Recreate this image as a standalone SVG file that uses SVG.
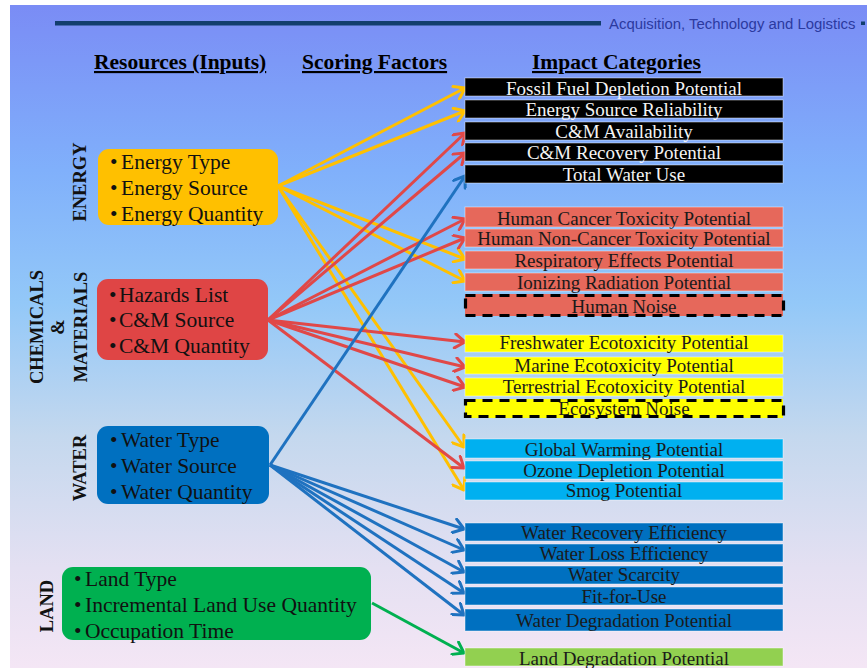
<svg xmlns="http://www.w3.org/2000/svg" width="867" height="668" viewBox="0 0 867 668">
<defs>
<linearGradient id="bg" x1="0" y1="0" x2="0" y2="1">
<stop offset="0" stop-color="#7a8cf5"/>
<stop offset="0.25" stop-color="#80b0fb"/>
<stop offset="0.45" stop-color="#93c8f8"/>
<stop offset="0.65" stop-color="#c4d8ee"/>
<stop offset="0.85" stop-color="#e4e0f2"/>
<stop offset="1" stop-color="#f4e6f5"/>
</linearGradient>
<marker id="aY" viewBox="-12 -8 14 16" refX="0" refY="0" markerWidth="14" markerHeight="16" markerUnits="userSpaceOnUse" orient="auto"><path d="M-10,-7 L0,0 L-10,7" fill="none" stroke="#ffc000" stroke-width="3" stroke-linecap="round" stroke-linejoin="round"/></marker>
<marker id="aR" viewBox="-12 -8 14 16" refX="0" refY="0" markerWidth="14" markerHeight="16" markerUnits="userSpaceOnUse" orient="auto"><path d="M-10,-7 L0,0 L-10,7" fill="none" stroke="#e04848" stroke-width="3" stroke-linecap="round" stroke-linejoin="round"/></marker>
<marker id="aB" viewBox="-12 -8 14 16" refX="0" refY="0" markerWidth="14" markerHeight="16" markerUnits="userSpaceOnUse" orient="auto"><path d="M-10,-7 L0,0 L-10,7" fill="none" stroke="#1f72c0" stroke-width="3" stroke-linecap="round" stroke-linejoin="round"/></marker>
<marker id="aG" viewBox="-12 -8 14 16" refX="0" refY="0" markerWidth="14" markerHeight="16" markerUnits="userSpaceOnUse" orient="auto"><path d="M-10,-7 L0,0 L-10,7" fill="none" stroke="#00b050" stroke-width="3" stroke-linecap="round" stroke-linejoin="round"/></marker>
</defs>
<style>
.hdr{font-family:"Liberation Serif","Times New Roman",serif;font-weight:bold;font-size:21.5px;fill:#000;text-decoration:underline}
.side{font-family:"Liberation Serif","Times New Roman",serif;font-weight:bold;font-size:18.5px;fill:#111;text-anchor:middle}
.inp{font-family:"Liberation Serif","Times New Roman",serif;font-size:21.5px;fill:#111}
.cat{font-family:"Liberation Serif","Times New Roman",serif;font-size:19px;text-anchor:middle;fill:#1a1a1a}
.cat.w{fill:#f4f4f4}
.box{stroke:#ffffff;stroke-opacity:0.45;stroke-width:1}
.dash{fill:none;stroke:#000;stroke-width:3.2;stroke-dasharray:10 7}
.cy{fill:none;stroke:#ffc000;stroke-width:3;marker-end:url(#aY)}
.cr{fill:none;stroke:#e04848;stroke-width:3;marker-end:url(#aR)}
.cb{fill:none;stroke:#1f72c0;stroke-width:3;marker-end:url(#aB)}
.cg{fill:none;stroke:#00b050;stroke-width:3;marker-end:url(#aG)}
</style>
<rect x="0" y="0" width="867" height="668" fill="#ffffff"/>
<rect x="10" y="5" width="857" height="663" fill="url(#bg)"/>
<rect x="55" y="21" width="546" height="4.5" fill="#123e6e"/>
<text x="609" y="29" font-family="Liberation Sans, Arial, sans-serif" font-size="14.9" fill="#2b3aa0">Acquisition, Technology and Logistics</text>
<rect x="861" y="21.5" width="4" height="3.5" fill="#123e6e"/>
<text class="hdr" x="94" y="69">Resources (Inputs)</text>
<text class="hdr" x="302" y="69">Scoring Factors</text>
<text class="hdr" x="532" y="69">Impact Categories</text>
<text class="side" transform="translate(86,182) rotate(-90)">ENERGY</text>
<text class="side" transform="translate(43,327) rotate(-90)">CHEMICALS</text>
<text class="side" transform="translate(64,327) rotate(-90)">&amp;</text>
<text class="side" transform="translate(87,327) rotate(-90)">MATERIALS</text>
<text class="side" transform="translate(86,468) rotate(-90)">WATER</text>
<text class="side" transform="translate(53,606) rotate(-90)">LAND</text>
<g id="connectors">
<line class="cy" x1="278" y1="186" x2="465" y2="88"/>
<line class="cy" x1="278" y1="186" x2="465" y2="111"/>
<line class="cy" x1="278" y1="186" x2="465" y2="259"/>
<line class="cy" x1="278" y1="186" x2="465" y2="281"/>
<line class="cy" x1="278" y1="186" x2="464" y2="447"/>
<line class="cy" x1="278" y1="186" x2="464" y2="490"/>
<line class="cr" x1="268" y1="320" x2="465" y2="133"/>
<line class="cr" x1="268" y1="320" x2="465" y2="153"/>
<line class="cr" x1="268" y1="320" x2="465" y2="219"/>
<line class="cr" x1="268" y1="320" x2="465" y2="238"/>
<line class="cr" x1="268" y1="320" x2="465" y2="342"/>
<line class="cr" x1="268" y1="320" x2="465" y2="367"/>
<line class="cr" x1="268" y1="320" x2="465" y2="387"/>
<line class="cr" x1="268" y1="320" x2="464" y2="468"/>
<line class="cb" x1="270" y1="465" x2="465" y2="176"/>
<line class="cb" x1="270" y1="465" x2="464" y2="529"/>
<line class="cb" x1="270" y1="465" x2="464" y2="550"/>
<line class="cb" x1="270" y1="465" x2="464" y2="572"/>
<line class="cb" x1="270" y1="465" x2="464" y2="593"/>
<line class="cb" x1="270" y1="465" x2="464" y2="615"/>
<line class="cg" x1="372" y1="603" x2="464" y2="653"/>
</g>
<g id="energy">
<rect x="98" y="149" width="180" height="76" rx="11" fill="#ffc000"/>
<text class="inp" x="110" y="169">•</text><text class="inp" x="121" y="169">Energy Type</text>
<text class="inp" x="110" y="195">•</text><text class="inp" x="121" y="195">Energy Source</text>
<text class="inp" x="110" y="221">•</text><text class="inp" x="121" y="221">Energy Quantity</text>
</g>
<g id="chemicals">
<rect x="97" y="279" width="171" height="81" rx="11" fill="#df4545"/>
<text class="inp" x="109" y="302">•</text><text class="inp" x="119" y="302">Hazards List</text>
<text class="inp" x="109" y="327">•</text><text class="inp" x="119" y="327">C&amp;M Source</text>
<text class="inp" x="109" y="353">•</text><text class="inp" x="119" y="353">C&amp;M Quantity</text>
</g>
<g id="water">
<rect x="97" y="426" width="172" height="78" rx="11" fill="#0070c0"/>
<text class="inp" x="110" y="447">•</text><text class="inp" x="121" y="447">Water Type</text>
<text class="inp" x="110" y="473">•</text><text class="inp" x="121" y="473">Water Source</text>
<text class="inp" x="110" y="499">•</text><text class="inp" x="121" y="499">Water Quantity</text>
</g>
<g id="land">
<rect x="62" y="567" width="309" height="73" rx="11" fill="#00b050"/>
<text class="inp" x="74" y="586">•</text><text class="inp" x="85" y="586">Land Type</text>
<text class="inp" x="74" y="612">•</text><text class="inp" x="85" y="612">Incremental Land Use Quantity</text>
<text class="inp" x="74" y="638">•</text><text class="inp" x="85" y="638">Occupation Time</text>
</g>
<g id="fossil"><rect class="box" x="465" y="78" width="318" height="18" fill="#000"/><text class="cat w" x="624" y="94.5">Fossil Fuel Depletion Potential</text></g>
<g id="esr"><rect class="box" x="465" y="100" width="318" height="18" fill="#000"/><text class="cat w" x="624" y="116">Energy Source Reliability</text></g>
<g id="cma"><rect class="box" x="465" y="122" width="318" height="18" fill="#000"/><text class="cat w" x="624" y="138">C&amp;M Availability</text></g>
<g id="cmr"><rect class="box" x="465" y="143" width="318" height="18" fill="#000"/><text class="cat w" x="624" y="159">C&amp;M Recovery Potential</text></g>
<g id="twu"><rect class="box" x="465" y="165" width="318" height="18" fill="#000"/><text class="cat w" x="624" y="181">Total Water Use</text></g>
<g id="hct"><rect class="box" x="465" y="207" width="318" height="20" fill="#e6685b"/><text class="cat" x="624" y="225">Human Cancer Toxicity Potential</text></g>
<g id="hnct"><rect class="box" x="465" y="229" width="318" height="18" fill="#e6685b"/><text class="cat" x="624" y="245">Human Non-Cancer Toxicity Potential</text></g>
<g id="rep"><rect class="box" x="465" y="251" width="318" height="18" fill="#e6685b"/><text class="cat" x="624" y="267">Respiratory Effects Potential</text></g>
<g id="irp"><rect class="box" x="465" y="273" width="318" height="18" fill="#e6685b"/><text class="cat" x="624" y="289">Ionizing Radiation Potential</text></g>
<g id="hn"><rect x="465" y="294" width="318" height="22" fill="#e6685b"/><text class="cat" x="624" y="312.5">Human Noise</text><rect class="dash" x="465.5" y="295.5" width="318" height="20"/></g>
<g id="fet"><rect class="box" x="465" y="335" width="318" height="17" fill="#ffff00"/><text class="cat" x="624" y="349">Freshwater Ecotoxicity Potential</text></g>
<g id="met"><rect class="box" x="465" y="357" width="318" height="17" fill="#ffff00"/><text class="cat" x="624" y="372">Marine Ecotoxicity Potential</text></g>
<g id="tet"><rect class="box" x="465" y="378" width="318" height="18" fill="#ffff00"/><text class="cat" x="624" y="393">Terrestrial Ecotoxicity Potential</text></g>
<g id="en"><rect x="465" y="399" width="318" height="19" fill="#ffff00"/><text class="cat" x="624" y="415">Ecosystem Noise</text><rect class="dash" x="465.5" y="400.5" width="318" height="16"/></g>
<g id="gwp"><rect class="box" x="465" y="439" width="318" height="19" fill="#00b0f0"/><text class="cat" x="624" y="456">Global Warming Potential</text></g>
<g id="odp"><rect class="box" x="465" y="461" width="318" height="18" fill="#00b0f0"/><text class="cat" x="624" y="477">Ozone Depletion Potential</text></g>
<g id="smog"><rect class="box" x="465" y="482" width="318" height="18" fill="#00b0f0"/><text class="cat" x="624" y="497">Smog Potential</text></g>
<g id="wre"><rect class="box" x="465" y="523" width="318" height="18" fill="#0070c0"/><text class="cat" x="624" y="539">Water Recovery Efficiency</text></g>
<g id="wle"><rect class="box" x="465" y="544" width="318" height="18" fill="#0070c0"/><text class="cat" x="624" y="560">Water Loss Efficiency</text></g>
<g id="ws"><rect class="box" x="465" y="566" width="318" height="18" fill="#0070c0"/><text class="cat" x="624" y="581">Water Scarcity</text></g>
<g id="ffu"><rect class="box" x="465" y="587" width="318" height="18" fill="#0070c0"/><text class="cat" x="624" y="603">Fit-for-Use</text></g>
<g id="wdp"><rect class="box" x="465" y="609" width="318" height="22" fill="#0070c0"/><text class="cat" x="624" y="627">Water Degradation Potential</text></g>
<g id="ldp"><rect class="box" x="465" y="648" width="318" height="18" fill="#92d050"/><text class="cat" x="624" y="665">Land Degradation Potential</text></g>
</svg>
